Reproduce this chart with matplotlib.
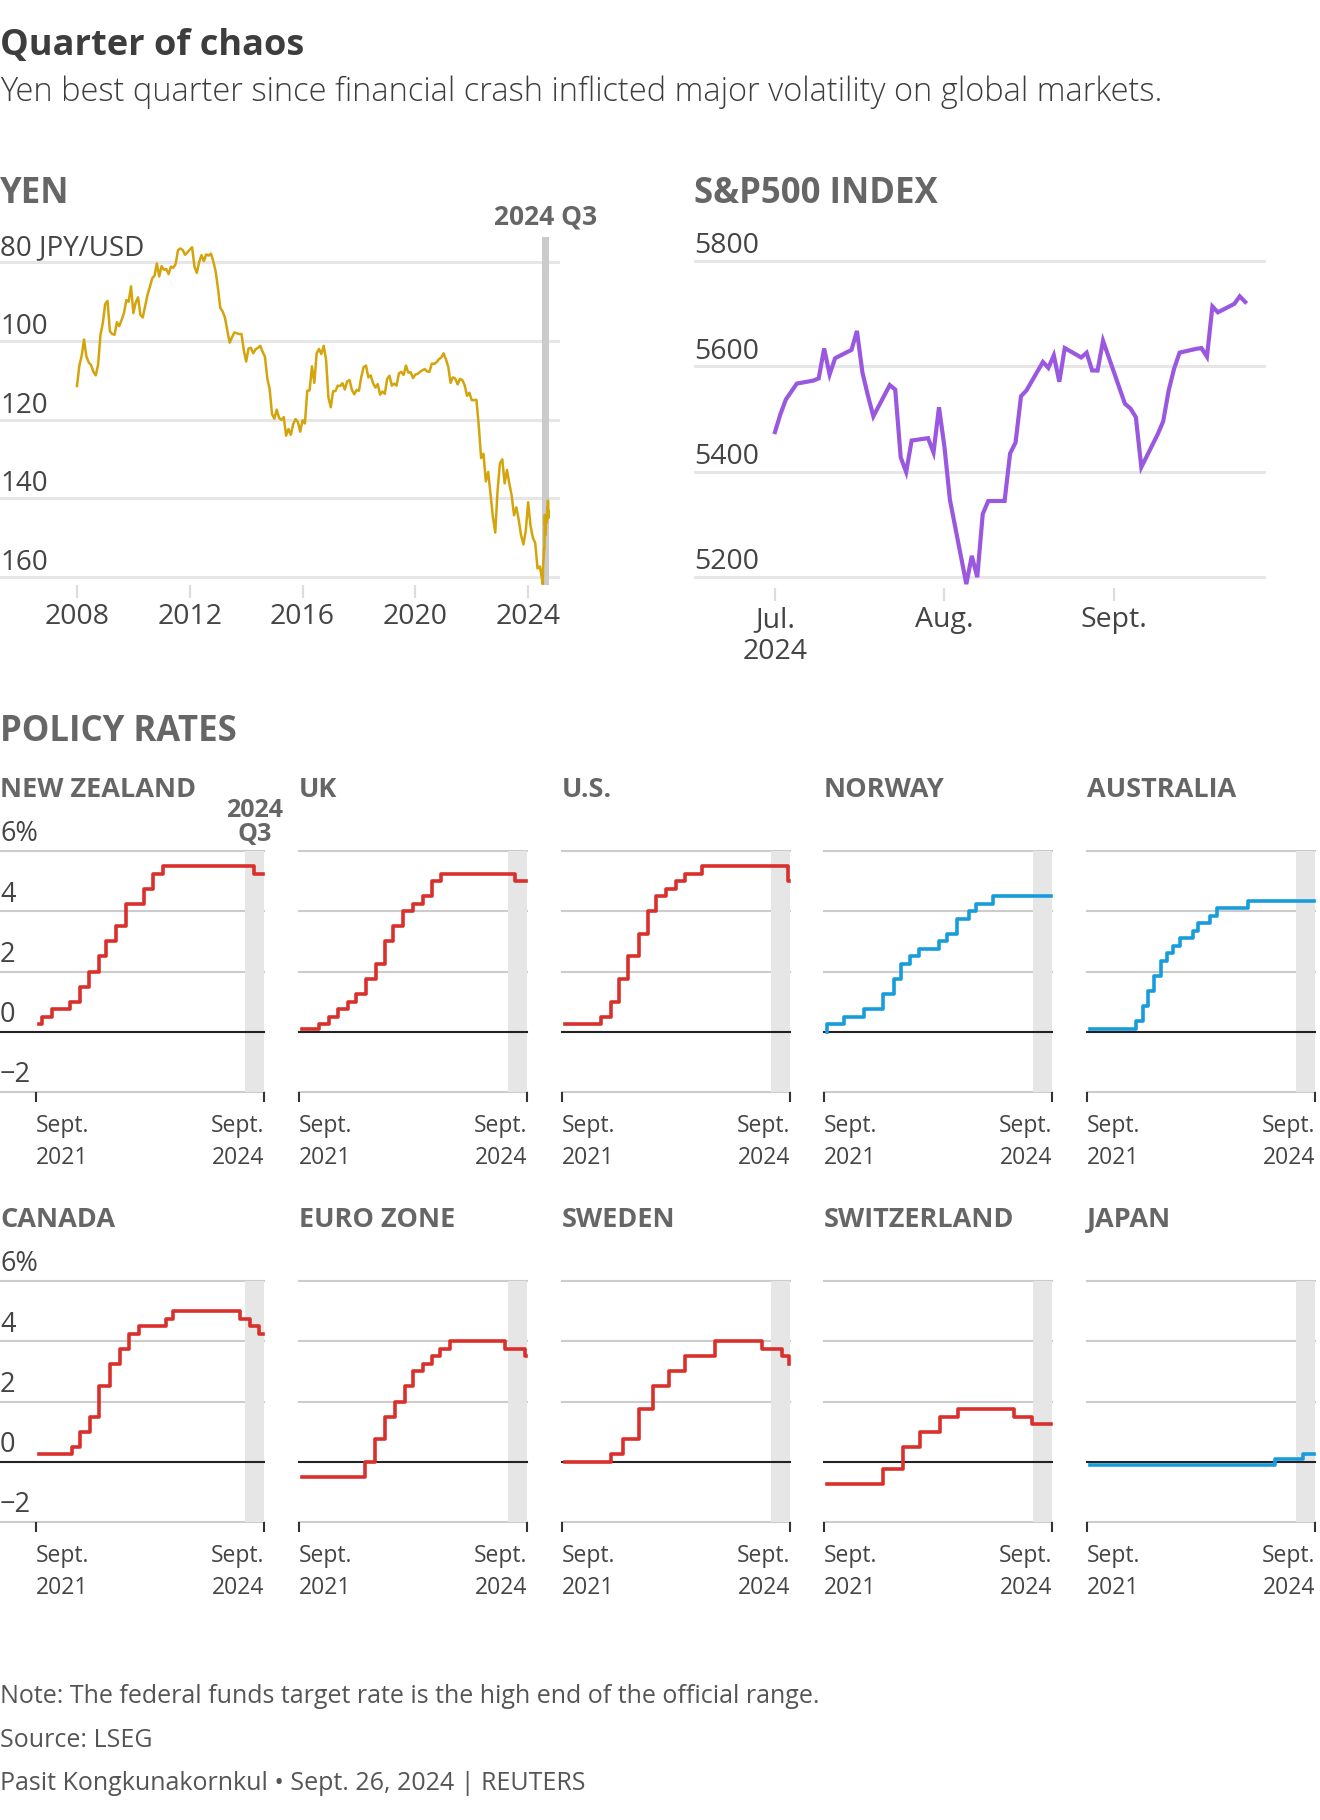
import pandas as pd
import matplotlib
matplotlib.use("Agg")
import matplotlib.pyplot as plt
import matplotlib.dates as mdates

plt.rcParams['font.family'] = ['Open Sans', 'DejaVu Sans']

W, H = 1320, 1820

# ---------------- data ----------------
# USD/JPY, month-end values Jan 2008 .. Jun 2024
yen_first = 111.5
yen_monthly = [
    106.4, 103.8, 99.7, 104.0, 105.5, 106.2, 107.9, 108.8, 106.0, 98.5, 95.5, 90.7,
    89.9, 97.6, 98.3, 98.5, 95.3, 96.3, 94.7, 93.0, 89.7, 90.1, 86.2, 93.0,
    90.3, 89.0, 93.5, 94.1, 91.3, 88.4, 86.4, 84.2, 83.5, 80.4, 83.7, 81.1,
    82.0, 81.8, 83.1, 81.2, 81.5, 80.5, 77.0, 76.6, 77.0, 78.2, 77.6, 76.9,
    76.3, 81.2, 82.8, 80.0, 78.3, 79.8, 78.1, 78.4, 77.9, 79.8, 82.4, 86.7,
    91.7, 92.6, 94.2, 97.5, 100.5, 99.1, 97.9, 98.1, 98.3, 98.3, 102.4, 105.3,
    102.0, 101.8, 103.2, 102.2, 101.8, 101.3, 102.8, 104.1, 109.6, 112.3, 118.6, 119.8,
    117.5, 119.6, 120.1, 119.4, 124.1, 122.4, 123.9, 121.2, 119.9, 120.6, 123.1, 120.2,
    121.0, 112.7, 112.6, 106.5, 110.7, 103.2, 102.1, 103.4, 101.3, 104.8, 114.4, 116.9,
    112.8, 112.8, 111.4, 111.5, 110.8, 112.4, 110.3, 110.0, 112.5, 113.6, 112.5, 112.7,
    109.2, 106.7, 106.3, 109.3, 108.8, 110.8, 111.9, 111.0, 113.7, 112.9, 113.5, 109.7,
    108.9, 111.4, 110.9, 111.4, 108.3, 107.9, 108.7, 106.3, 108.1, 108.0, 109.5, 108.6,
    108.4, 107.9, 107.5, 107.2, 107.8, 107.9, 105.8, 105.9, 105.5, 104.7, 104.3, 103.2,
    104.7, 106.6, 110.7, 109.3, 109.6, 111.1, 109.7, 110.0, 111.3, 114.0, 113.2, 115.1,
    115.1, 115.0, 121.7, 129.8, 128.7, 135.7, 133.3, 138.9, 144.7, 148.7, 138.0, 131.1,
    130.1, 136.2, 132.8, 136.3, 139.3, 144.3, 142.3, 145.5, 149.4, 151.7, 148.2, 141.0,
    146.9, 150.0, 151.3, 157.8, 157.3, 160.9,
]
yen_q3_dates = ['2024-07-03', '2024-07-10', '2024-07-11', '2024-07-12', '2024-07-17',
                '2024-07-24', '2024-07-25', '2024-07-30', '2024-07-31', '2024-08-02',
                '2024-08-05', '2024-08-07', '2024-08-09', '2024-08-15', '2024-08-20',
                '2024-08-23', '2024-08-30', '2024-09-03', '2024-09-06', '2024-09-11',
                '2024-09-13', '2024-09-16', '2024-09-19', '2024-09-20', '2024-09-24',
                '2024-09-25']
yen_q3_vals = [161.7, 161.7, 159.0, 157.8, 156.2, 153.9, 152.6, 152.8, 150.0, 146.5,
               144.2, 146.7, 146.6, 149.3, 145.2, 144.4, 146.2, 145.4, 142.3, 142.4,
               140.8, 140.6, 142.6, 143.9, 143.2, 144.8]
yen_ticks = [80, 100, 120, 140, 160]
yen_tick_labels = ['80 JPY/USD', '100', '120', '140', '160']
yen_years = [2008, 2012, 2016, 2020, 2024]

# S&P 500 daily closes, Q3 2024
spx_dates = ['2024-07-01', '2024-07-02', '2024-07-03', '2024-07-05', '2024-07-08',
             '2024-07-09', '2024-07-10', '2024-07-11', '2024-07-12', '2024-07-15',
             '2024-07-16', '2024-07-17', '2024-07-18', '2024-07-19', '2024-07-22',
             '2024-07-23', '2024-07-24', '2024-07-25', '2024-07-26', '2024-07-29',
             '2024-07-30', '2024-07-31', '2024-08-01', '2024-08-02', '2024-08-05',
             '2024-08-06', '2024-08-07', '2024-08-08', '2024-08-09', '2024-08-12',
             '2024-08-13', '2024-08-14', '2024-08-15', '2024-08-16', '2024-08-19',
             '2024-08-20', '2024-08-21', '2024-08-22', '2024-08-23', '2024-08-26',
             '2024-08-27', '2024-08-28', '2024-08-29', '2024-08-30', '2024-09-03',
             '2024-09-04', '2024-09-05', '2024-09-06', '2024-09-09', '2024-09-10',
             '2024-09-11', '2024-09-12', '2024-09-13', '2024-09-16', '2024-09-17',
             '2024-09-18', '2024-09-19', '2024-09-20', '2024-09-23', '2024-09-24',
             '2024-09-25']
spx_close = [5475.09, 5509.01, 5537.02, 5567.19, 5572.85, 5576.98, 5633.91, 5584.54,
             5615.35, 5631.22, 5667.20, 5588.27, 5544.59, 5505.00, 5564.41, 5555.74,
             5427.13, 5399.22, 5459.10, 5463.54, 5436.44, 5522.30, 5446.68, 5346.56,
             5186.33, 5240.03, 5199.50, 5319.31, 5344.16, 5344.39, 5434.43, 5455.21,
             5543.22, 5554.25, 5608.25, 5597.12, 5620.85, 5570.64, 5634.61, 5616.84,
             5625.80, 5592.18, 5591.96, 5648.40, 5528.93, 5520.07, 5503.41, 5408.42,
             5471.05, 5495.52, 5554.13, 5595.76, 5626.02, 5633.09, 5634.58, 5618.26,
             5713.64, 5702.55, 5718.57, 5732.93, 5722.26]
spx_ticks = [5200, 5400, 5600, 5800]
spx_month_starts = ['2024-07-01', '2024-08-01', '2024-09-01']
spx_month_labels = ['Jul.\n2024', 'Aug.', 'Sept.']

# Policy rates: change dates and the new rate (%)
nz_dates = ['2021-09-24', '2021-10-06', '2021-11-24', '2022-02-23', '2022-04-13', '2022-05-25',
            '2022-07-13', '2022-08-17', '2022-10-05', '2022-11-23', '2023-02-22', '2023-04-05',
            '2023-05-24', '2024-08-14']
nz_rates = [0.25, 0.5, 0.75, 1.0, 1.5, 2.0, 2.5, 3.0, 3.5, 4.25, 4.75, 5.25, 5.5, 5.25]

uk_dates = ['2021-09-24', '2021-12-16', '2022-02-03', '2022-03-17', '2022-05-05', '2022-06-16',
            '2022-08-04', '2022-09-22', '2022-11-03', '2022-12-15', '2023-02-02', '2023-03-23',
            '2023-05-11', '2023-06-22', '2023-08-03', '2024-08-01']
uk_rates = [0.1, 0.25, 0.5, 0.75, 1.0, 1.25, 1.75, 2.25, 3.0, 3.5, 4.0, 4.25, 4.5, 5.0, 5.25, 5.0]

us_dates = ['2021-09-24', '2022-03-17', '2022-05-05', '2022-06-16', '2022-07-28', '2022-09-22',
            '2022-11-03', '2022-12-15', '2023-02-02', '2023-03-23', '2023-05-04', '2023-07-27',
            '2024-09-19']
us_rates = [0.25, 0.5, 1.0, 1.75, 2.5, 3.25, 4.0, 4.5, 4.75, 5.0, 5.25, 5.5, 5.0]

no_dates = ['2021-09-22', '2021-09-24', '2021-12-17', '2022-03-25', '2022-06-24', '2022-08-19',
            '2022-09-23', '2022-11-04', '2022-12-16', '2023-03-24', '2023-05-05', '2023-06-23',
            '2023-08-18', '2023-09-22', '2023-12-15']
no_rates = [0.0, 0.25, 0.5, 0.75, 1.25, 1.75, 2.25, 2.5, 2.75, 3.0, 3.25, 3.75, 4.0, 4.25, 4.5]

au_dates = ['2021-09-24', '2022-05-04', '2022-06-08', '2022-07-06', '2022-08-03', '2022-09-07',
            '2022-10-05', '2022-11-02', '2022-12-07', '2023-02-08', '2023-03-08', '2023-05-03',
            '2023-06-07', '2023-11-08']
au_rates = [0.1, 0.35, 0.85, 1.35, 1.85, 2.35, 2.6, 2.85, 3.1, 3.35, 3.6, 3.85, 4.1, 4.35]

ca_dates = ['2021-09-24', '2022-03-02', '2022-04-13', '2022-06-01', '2022-07-13', '2022-09-07',
            '2022-10-26', '2022-12-07', '2023-01-25', '2023-06-07', '2023-07-12', '2024-06-05',
            '2024-07-24', '2024-09-04']
ca_rates = [0.25, 0.5, 1.0, 1.5, 2.5, 3.25, 3.75, 4.25, 4.5, 4.75, 5.0, 4.75, 4.5, 4.25]

ez_dates = ['2021-09-24', '2022-07-27', '2022-09-14', '2022-11-02', '2022-12-21', '2023-02-08',
            '2023-03-22', '2023-05-10', '2023-06-21', '2023-08-02', '2023-09-20', '2024-06-12',
            '2024-09-18']
ez_rates = [-0.5, 0.0, 0.75, 1.5, 2.0, 2.5, 3.0, 3.25, 3.5, 3.75, 4.0, 3.75, 3.5]

se_dates = ['2021-09-24', '2022-05-04', '2022-07-06', '2022-09-21', '2022-11-30', '2023-02-15',
            '2023-05-03', '2023-09-27', '2024-05-15', '2024-08-21', '2024-09-25']
se_rates = [0.0, 0.25, 0.75, 1.75, 2.5, 3.0, 3.5, 4.0, 3.75, 3.5, 3.25]

ch_dates = ['2021-09-24', '2022-06-22', '2022-09-28', '2022-12-21', '2023-03-29', '2023-06-28',
            '2024-03-27', '2024-06-26']
ch_rates = [-0.75, -0.25, 0.5, 1.0, 1.5, 1.75, 1.5, 1.25]

jp_dates = ['2021-09-24', '2024-03-19', '2024-07-31']
jp_rates = [-0.1, 0.1, 0.25]

rate_end = '2024-09-26'
rate_ticks = [6, 4, 2, 0, -2]
rate_tick_labels = ['6%', '4', '2', '0', '\u22122']

RED = '#d9302c'
BLUE = '#189cdc'
panels = [
    ('NEW ZEALAND', nz_dates, nz_rates, RED),
    ('UK', uk_dates, uk_rates, RED),
    ('U.S.', us_dates, us_rates, RED),
    ('NORWAY', no_dates, no_rates, BLUE),
    ('AUSTRALIA', au_dates, au_rates, BLUE),
    ('CANADA', ca_dates, ca_rates, RED),
    ('EURO ZONE', ez_dates, ez_rates, RED),
    ('SWEDEN', se_dates, se_rates, RED),
    ('SWITZERLAND', ch_dates, ch_rates, RED),
    ('JAPAN', jp_dates, jp_rates, BLUE),
]

# ---------------- styling ----------------
TITLE_C = '#3d3d3d'
HEAD_C = '#666666'
TXT = '#444444'
GRID_L = '#e6e6e6'
GRID_P = '#cccccc'
GOLD = '#d4a40c'
PURPLE = '#9a58e0'

fig = plt.figure(figsize=(W / 100, H / 100), dpi=100)


def add_ax(x0, y0, x1, y1):
    ax = fig.add_axes([x0 / W, 1 - y1 / H, (x1 - x0) / W, (y1 - y0) / H])
    ax.patch.set_alpha(0)
    for s in ax.spines.values():
        s.set_visible(False)
    ax.set_yticks([])
    return ax


def ftext(x, y, s, **kw):
    fig.text(x / W, 1 - y / H, s, va='baseline', **kw)


def dec_year(d):
    d = pd.Timestamp(d)
    return d.year + (d.dayofyear - 1) / (366 if d.is_leap_year else 365)


ftext(0, 55, 'Quarter of chaos', fontsize=26, fontweight='bold', color=TITLE_C)
ftext(0, 101, 'Yen best quarter since financial crash inflicted major volatility on global markets.',
      fontsize=23.5, fontweight='light', color=TITLE_C)

# ---------------- YEN ----------------
ftext(0, 203, 'YEN', fontsize=25, fontweight='bold', color=HEAD_C)
ax = add_ax(0, 254, 560, 585)
ax.set_xlim(2005.27, 2025.13)
ax.set_ylim(162, 78)
for v, lab in zip(yen_ticks, yen_tick_labels):
    ax.axhline(v, color=GRID_L, lw=2.2, zorder=0)
    ax.annotate(lab, xy=(0, v), xycoords=('axes fraction', 'data'), xytext=(0, 5),
                textcoords='offset points', ha='left', va='baseline', fontsize=20, color=TXT)
ax.axvspan(2024.5, 2024.745, ymin=0, ymax=1.052, color='#cbcbcb', lw=0, zorder=1, clip_on=False)
yen_x = [yen_years[0]] + [yen_years[0] + (k + 1) / 12 for k in range(len(yen_monthly))] \
    + [dec_year(d) for d in yen_q3_dates]
yen_y = [yen_first] + yen_monthly + yen_q3_vals
ax.plot(yen_x, yen_y, color=GOLD, lw=1.8, zorder=3, clip_on=False)
ax.annotate('2024 Q3', xy=(2024.62, 1), xycoords=('data', 'axes fraction'), xytext=(0, 21),
            textcoords='offset points', ha='center', va='baseline', fontsize=19,
            fontweight='bold', color=HEAD_C)
ax.set_xticks(yen_years)
ax.set_xticklabels([str(y) for y in yen_years])
ax.tick_params(axis='x', length=9, width=1.6, color='#dddddd', pad=4, labelsize=20.5,
               labelcolor=TXT)

# ---------------- S&P 500 ----------------
ftext(694, 203, 'S&P500 INDEX', fontsize=25, fontweight='bold', color=HEAD_C)
ax = add_ax(694, 245, 1266, 588)
t0 = pd.Timestamp('2024-07-01')
ax.set_xlim(-14.8, 89.8)
ax.set_ylim(5179, 5830.4)
for v in spx_ticks:
    ax.axhline(v, color=GRID_L, lw=2.2, zorder=0)
    ax.annotate(str(v), xy=(0, v), xycoords=('axes fraction', 'data'), xytext=(0, 5.5),
                textcoords='offset points', ha='left', va='baseline', fontsize=20.5, color=TXT)
spx_x = [(pd.Timestamp(d) - t0).days for d in spx_dates]
ax.plot(spx_x, spx_close, color=PURPLE, lw=3.0, zorder=3, clip_on=False,
        solid_joinstyle='miter')
ax.set_xticks([(pd.Timestamp(d) - t0).days for d in spx_month_starts])
ax.set_xticklabels(spx_month_labels, linespacing=1.2)
ax.tick_params(axis='x', length=9, width=1.6, color='#dddddd', pad=4, labelsize=20.5,
               labelcolor=TXT)

# ---------------- POLICY RATES ----------------
ftext(0, 741, 'POLICY RATES', fontsize=25, fontweight='bold', color=HEAD_C)
col_x = [36, 299, 562, 824, 1087]
row_top = [851, 1281]
row_bot = [1092, 1522]
pw = 228
d_lo = mdates.date2num(pd.Timestamp('2021-09-08'))
d_hi = mdates.date2num(pd.Timestamp('2024-09-30'))
q3_lo = mdates.date2num(pd.Timestamp('2024-07-01'))

for i, (name, dates, rates, c) in enumerate(panels):
    r, col = divmod(i, 5)
    x0 = col_x[col]
    ax = add_ax(x0, row_top[r], x0 + pw, row_bot[r])
    ax.set_xlim(d_lo, d_hi)
    ax.set_ylim(-2, 6)
    ext = -x0 / pw if col == 0 else 0
    for v in rate_ticks:
        if v == 0:
            continue
        ax.plot([ext, 1], [v, v], transform=ax.get_yaxis_transform(), color=GRID_P, lw=1.5,
                clip_on=False, zorder=0)
    ax.axvspan(q3_lo, d_hi, color='#e6e6e6', lw=0, zorder=1)
    ax.plot([ext, 1], [0, 0], transform=ax.get_yaxis_transform(), color='#222222', lw=1.5,
            clip_on=False, zorder=2)
    xs = [mdates.date2num(pd.Timestamp(d)) for d in dates] + [mdates.date2num(pd.Timestamp(rate_end))]
    ys = list(rates) + [rates[-1]]
    ax.step(xs, ys, where='post', color=c, lw=2.6, zorder=3, clip_on=False)
    ftext(0 if col == 0 else x0, row_top[r] - 54, name, fontsize=19.5, fontweight='bold',
          color=HEAD_C)
    if col == 0:
        for v, lab in zip(rate_ticks, rate_tick_labels):
            ax.annotate(lab, xy=(0, v), xycoords=('figure fraction', 'data'), xytext=(0, 7),
                        textcoords='offset points', ha='left', va='baseline', fontsize=19.5,
                        color=TXT)
    if i == 0:
        ax.annotate('2024\nQ3', xy=((q3_lo + d_hi) / 2, 1), xycoords=('data', 'axes fraction'),
                    xytext=(0, 3), textcoords='offset points', ha='center', va='bottom',
                    multialignment='center', linespacing=0.95, fontsize=18,
                    fontweight='bold', color=HEAD_C)
    ax.set_xticks([d_lo, d_hi])
    ax.set_xticklabels(['Sept.\n2021', 'Sept.\n2024'], linespacing=1.45)
    for lab, ha in zip(ax.get_xticklabels(), ['left', 'right']):
        lab.set_horizontalalignment(ha)
    ax.tick_params(axis='x', length=7, width=1.5, color='#333333', pad=9, labelsize=16.5,
                   labelcolor=TXT)

# ---------------- footer ----------------
ftext(0, 1703, 'Note: The federal funds target rate is the high end of the official range.',
      fontsize=18, color='#555555')
ftext(0, 1747, 'Source: LSEG', fontsize=18, color='#555555')
ftext(0, 1790, 'Pasit Kongkunakornkul \u2022 Sept. 26, 2024 | REUTERS', fontsize=18,
      color='#555555')

fig.savefig('out.png', dpi=100, facecolor='white')
